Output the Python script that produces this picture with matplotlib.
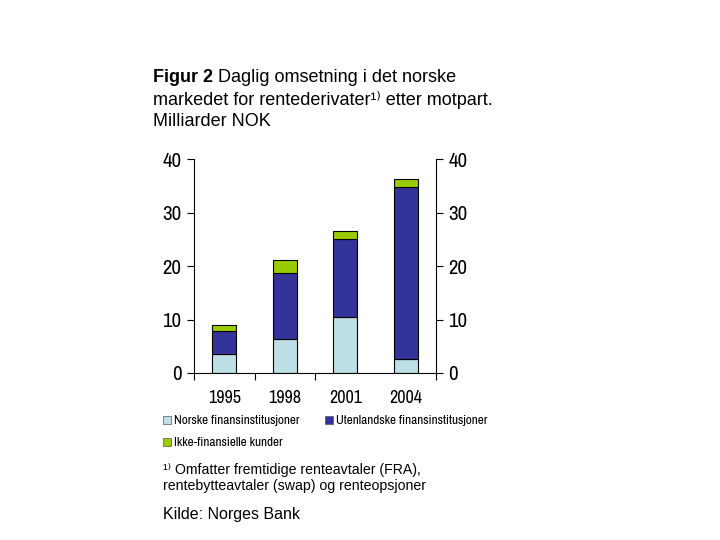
import numpy as np
import matplotlib.pyplot as plt
from matplotlib.patches import Rectangle

years = ['1995', '1998', '2001', '2004']
norske = [3.5, 6.4, 10.4, 2.6]
utenlandske = [4.4, 12.2, 14.7, 32.15]
ikke_fin = [1.0, 2.5, 1.5, 1.5]

c_norske = '#BDE0E6'
c_utenl = '#333399'
c_ikke = '#99CC00'

narrow = ['Archivo Narrow', 'Liberation Sans', 'DejaVu Sans']
plt.rcParams['font.family'] = ['Liberation Sans', 'DejaVu Sans']

fig = plt.figure(figsize=(7.2, 5.4), dpi=100)
W, H = 720, 540
ax = fig.add_axes([194 / W, 1 - 373 / H, 242 / W, 214 / H])

x = np.arange(len(years))
bw = 0.4
b1 = np.array(norske)
b2 = b1 + np.array(utenlandske)
ax.bar(x, norske, bw, color=c_norske, edgecolor='black', linewidth=0.8)
ax.bar(x, utenlandske, bw, bottom=b1, color=c_utenl, edgecolor='black', linewidth=0.8)
ax.bar(x, ikke_fin, bw, bottom=b2, color=c_ikke, edgecolor='black', linewidth=0.8)

ax.set_xlim(-0.5, 3.5)
ax.set_ylim(0, 40)
ax.set_yticks([0, 10, 20, 30, 40])
ax.set_xticks([-0.5, 0.5, 1.5, 3.5])
ax.set_xticklabels([])
ax.tick_params(axis='x', direction='out', length=5, width=0.8)
ax.tick_params(axis='y', direction='out', length=5, width=0.8, labelsize=15,
               left=True, right=True, labelleft=True, labelright=True, pad=4)
for t in ax.yaxis.get_major_ticks():
    t.label1.set_fontfamily(narrow)
    t.label2.set_fontfamily(narrow)
ax.spines['top'].set_visible(False)
for s in ['left', 'right', 'bottom']:
    ax.spines[s].set_linewidth(0.8)

# aarstall under aksen
for i, yr in enumerate(years):
    ax.annotate(yr, (i, 0), xytext=(0, -25), textcoords='offset pixels',
                ha='center', va='center', fontsize=13, fontfamily=narrow)

# titel
fig.text(153 / W, 1 - 78 / H, 'Figur 2', fontsize=13, fontweight='bold', va='center')
fig.text(218 / W, 1 - 78 / H, 'Daglig omsetning i det norske', fontsize=13, va='center')
fig.text(153 / W, 1 - 100 / H, 'markedet for rentederivater¹⁾ etter motpart.', fontsize=13, va='center')
fig.text(153 / W, 1 - 122 / H, 'Milliarder NOK', fontsize=13, va='center')

# legend
leg = [(163, 420, c_norske, 'Norske finansinstitusjoner'),
       (325, 420, c_utenl, 'Utenlandske finansinstitusjoner'),
       (163, 442, c_ikke, 'Ikke-finansielle kunder')]
for lx, ly, col, txt in leg:
    fig.patches.append(Rectangle((lx / W, 1 - (ly + 4) / H), 8 / W, 8 / H, transform=fig.transFigure,
                                 facecolor=col, edgecolor='#555555', linewidth=0.5))
    fig.text((lx + 11) / W, 1 - ly / H, txt, fontsize=9.5, fontfamily=narrow, va='center')

fig.text(163 / W, 1 - 470 / H, '¹⁾ Omfatter fremtidige renteavtaler (FRA),', fontsize=10.2, va='center')
fig.text(163 / W, 1 - 486 / H, 'rentebytteavtaler (swap) og renteopsjoner', fontsize=10.2, va='center')
fig.text(163 / W, 1 - 514 / H, 'Kilde: Norges Bank', fontsize=11.5, va='center')

fig.savefig('out.png', dpi=100)
